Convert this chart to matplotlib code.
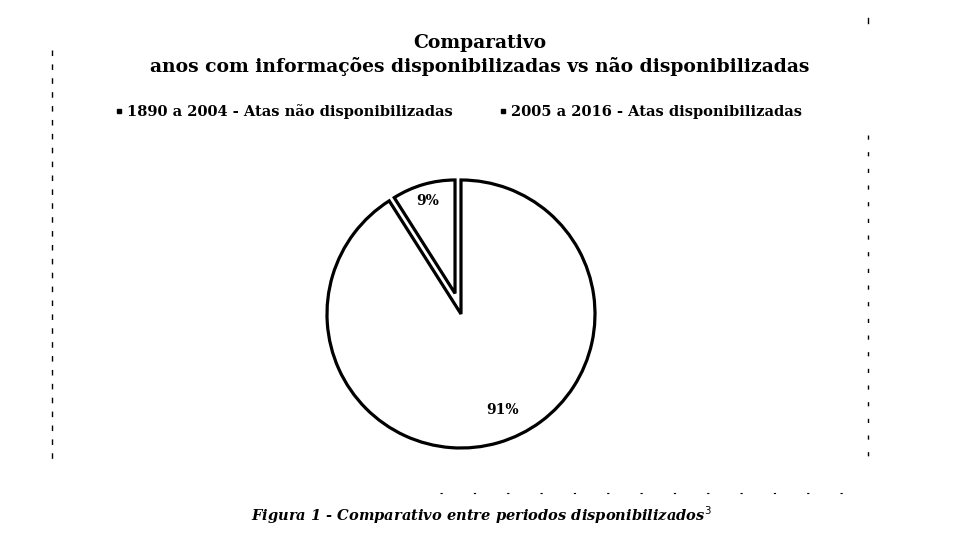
import numpy as np
import matplotlib.pyplot as plt
from matplotlib.lines import Line2D

# dados do grafico
categorias = ['1890 a 2004 - Atas não disponibilizadas', '2005 a 2016 - Atas disponibilizadas']
valores = [91, 9]
rotulos = ['91%', '9%']

legenda_fig = 'Figura 1 - Comparativo entre periodos disponibilizados$^{3}$'

W, H = 959, 558
fig = plt.figure(figsize=(W / 100, H / 100), dpi=100)
fig.patch.set_facecolor('white')

serif = ['DejaVu Serif']

# eixo da pizza (centro ~ (461, 314), raio ~134 px)
cx, cy, r = 461, 314, 134
half = 150
ax = fig.add_axes([(cx - half) / W, (H - cy - half) / H, 2 * half / W, 2 * half / H])
props = dict(edgecolor='black', linewidth=2.3, joinstyle='miter')

# fatia grande
w1, _ = ax.pie(valores, startangle=90, counterclock=False, colors=['white', 'white'],
               wedgeprops=props)
w1[1].set_visible(False)
# fatia pequena, afastada e um pouco menor (gera o contorno duplo)
d = 0.16
w2, _ = ax.pie(valores, startangle=90, counterclock=False, colors=['white', 'white'],
               explode=[0, d], radius=1 - d * 0.96, wedgeprops=props)
w2[0].set_visible(False)

lim = half / r
ax.set_xlim(-lim, lim)
ax.set_ylim(-lim, lim)
ax.set_aspect('equal')
ax.axis('off')

# rotulos de porcentagem
ang = 90
for v, t in zip(valores, rotulos):
    a1 = ang - v * 3.6
    mid = (ang + a1) / 2
    ang = a1
    if v > 50:
        mid, dist = mid + 7, 0.78
    else:
        dist = 0.88
    m = np.deg2rad(mid)
    ax.text(dist * np.cos(m), dist * np.sin(m), t, ha='center', va='center',
            fontsize=10, fontweight='bold', family=serif)

# titulo
fig.text(0.5, 1 - 43 / H, 'Comparativo', ha='center', va='center',
         fontsize=13.5, fontweight='bold', family=serif)
fig.text(0.5, 1 - 67 / H, 'anos com informações disponibilizadas vs não disponibilizadas',
         ha='center', va='center', fontsize=13.5, fontweight='bold', family=serif)

# legenda
handles = [Line2D([], [], marker='s', color='black', linestyle='none', markersize=3.5)
           for _ in categorias]
fig.legend(handles, categorias, loc='center', bbox_to_anchor=(459 / W, 1 - 112 / H),
           ncol=2, frameon=False, handlelength=0.5, handletextpad=0.3, columnspacing=3.2,
           prop=dict(family=serif, weight='bold', size=10.5))

# bordas do quadro escaneado (tracejadas)
fig.add_artist(Line2D([52 / W, 52 / W], [1 - 50 / H, 1 - 465 / H], color='black',
                      linewidth=1.0, linestyle=(0, (4, 6)), transform=fig.transFigure))
fig.add_artist(Line2D([868 / W, 868 / W], [1 - 135 / H, 1 - 460 / H], color='black',
                      linewidth=1.0, linestyle=(0, (3, 9)), transform=fig.transFigure))
fig.add_artist(Line2D([868 / W, 868 / W], [1 - 18 / H, 1 - 23 / H], color='black',
                      linewidth=1.0, transform=fig.transFigure))
fig.add_artist(Line2D([440 / W, 850 / W], [1 - 493 / H, 1 - 493 / H], color='black',
                      linewidth=0.8, linestyle=(0, (2, 28)), transform=fig.transFigure))

# legenda da figura
fig.text(481 / W, 1 - 515 / H, legenda_fig, ha='center', va='center',
         fontsize=10.5, fontweight='bold', fontstyle='italic', family=serif)

fig.savefig('out.png', dpi=100, facecolor='white')
